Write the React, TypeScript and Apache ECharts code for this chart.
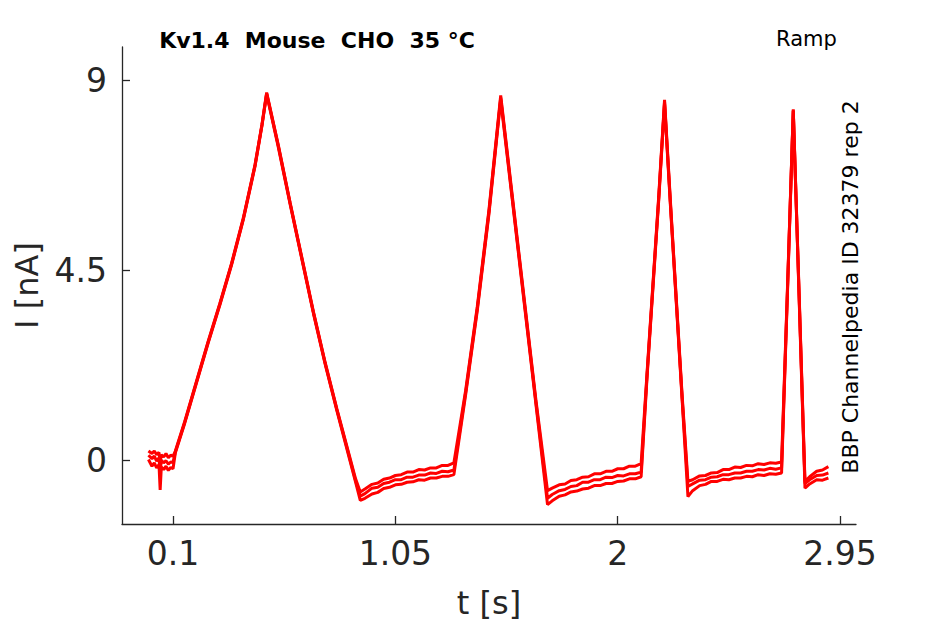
import React, { useEffect, useRef } from "react";
import * as echarts from "echarts";

const title = "Kv1.4  Mouse  CHO  35 °C";
const protocol = "Ramp";
const sideNote = "BBP Channelpedia ID 32379 rep 2";
const xTicks = [0.1, 1.05, 2, 2.95];
const yTicks = [0, 4.5, 9];

const time = [
  -0.005, 0.01, 0.02, 0.03, 0.04, 0.045, 0.05, 0.06, 0.07, 0.08, 0.09, 0.1,
  0.11, 0.15, 0.2, 0.25, 0.3, 0.35, 0.4, 0.45, 0.48, 0.5,
  0.55, 0.6, 0.65, 0.7, 0.75, 0.8, 0.85, 0.88, 0.9,
  0.92, 0.95, 0.975, 1.0, 1.025, 1.05, 1.075, 1.1, 1.125, 1.15, 1.175, 1.2, 1.225, 1.25, 1.275, 1.3,
  1.35, 1.4, 1.45, 1.5, 1.55, 1.6, 1.65, 1.7,
  1.72, 1.75, 1.775, 1.8, 1.825, 1.85, 1.875, 1.9, 1.925, 1.95, 1.975, 2.0, 2.025, 2.05, 2.075, 2.1,
  2.125, 2.15, 2.175, 2.2, 2.225, 2.25, 2.275, 2.3,
  2.32, 2.35, 2.375, 2.4, 2.425, 2.45, 2.475, 2.5, 2.525, 2.55, 2.575, 2.6, 2.625, 2.65, 2.675, 2.7,
  2.725, 2.75, 2.775, 2.8,
  2.82, 2.85, 2.875, 2.9,
];

const sweep1 = [
  0.02, -0.14, -0.06, -0.18, -0.1, -0.7, -0.16, -0.22, -0.14, -0.24, -0.17, -0.2,
  0.18, 0.88, 1.83, 2.78, 3.68, 4.63, 5.7, 6.96, 7.93, 8.68,
  7.42, 6.08, 4.78, 3.48, 2.28, 1.18, 0.12, -0.52, -0.95,
  -0.9, -0.8, -0.76, -0.67, -0.64, -0.58, -0.57, -0.52, -0.51, -0.46, -0.47, -0.42, -0.42, -0.38, -0.38, -0.34,
  1.55, 3.55, 5.85, 8.55, 6.15, 3.75, 1.35, -1.05,
  -0.96, -0.85, -0.82, -0.75, -0.73, -0.68, -0.66, -0.6, -0.6, -0.55, -0.55, -0.5, -0.49, -0.44, -0.44, -0.39,
  1.95, 4.05, 6.15, 8.45, 6.05, 3.75, 1.45, -0.86,
  -0.72, -0.6, -0.57, -0.5, -0.5, -0.45, -0.46, -0.42, -0.42, -0.38, -0.39, -0.34, -0.36, -0.32, -0.33, -0.3,
  3.95, 8.28, 3.85, -0.66,
  -0.56, -0.46, -0.47, -0.42,
];

const sweep2 = [
  0.12, 0.04, 0.1, -0.02, 0.06, -0.3, 0.0, -0.06, -0.01, -0.09, -0.04, -0.05,
  0.2, 0.9, 1.85, 2.8, 3.7, 4.65, 5.72, 6.98, 7.95, 8.7,
  7.45, 6.1, 4.8, 3.5, 2.3, 1.2, 0.15, -0.48, -0.85,
  -0.79, -0.66, -0.64, -0.55, -0.52, -0.46, -0.46, -0.4, -0.4, -0.35, -0.35, -0.3, -0.31, -0.26, -0.27, -0.23,
  1.6, 3.6, 5.9, 8.6, 6.2, 3.8, 1.4, -0.9,
  -0.81, -0.72, -0.69, -0.62, -0.6, -0.52, -0.52, -0.46, -0.46, -0.4, -0.41, -0.36, -0.37, -0.32, -0.32, -0.28,
  2.0, 4.1, 6.2, 8.5, 6.1, 3.8, 1.5, -0.62,
  -0.56, -0.47, -0.46, -0.4, -0.39, -0.34, -0.34, -0.3, -0.3, -0.26, -0.26, -0.22, -0.23, -0.19, -0.21, -0.18,
  4.0, 8.3, 3.9, -0.55,
  -0.46, -0.36, -0.35, -0.3,
];

const sweep3 = [
  0.22, 0.16, 0.22, 0.13, 0.19, -0.05, 0.13, 0.08, 0.16, 0.06, 0.12, 0.1,
  0.22, 0.92, 1.87, 2.82, 3.72, 4.67, 5.74, 7.0, 7.97, 8.72,
  7.47, 6.12, 4.82, 3.52, 2.32, 1.22, 0.18, -0.44, -0.75,
  -0.68, -0.57, -0.54, -0.45, -0.42, -0.36, -0.34, -0.28, -0.28, -0.22, -0.23, -0.18, -0.18, -0.12, -0.12, -0.06,
  1.65, 3.65, 5.95, 8.65, 6.25, 3.85, 1.45, -0.72,
  -0.66, -0.58, -0.56, -0.48, -0.46, -0.4, -0.39, -0.32, -0.32, -0.26, -0.26, -0.2, -0.2, -0.14, -0.14, -0.08,
  2.05, 4.15, 6.25, 8.55, 6.15, 3.85, 1.55, -0.5,
  -0.46, -0.37, -0.36, -0.3, -0.29, -0.22, -0.22, -0.16, -0.17, -0.12, -0.13, -0.08, -0.1, -0.06, -0.07, -0.04,
  4.05, 8.32, 3.95, -0.5,
  -0.39, -0.26, -0.23, -0.15,
];

const sweeps = [sweep1, sweep2, sweep3];

const FONT = "DejaVu Sans";
const AX = "#262626";

export default function App() {
  const ref = useRef<HTMLDivElement>(null);
  useEffect(() => {
    if (!ref.current) return;
    const chart = echarts.init(ref.current, undefined, { renderer: "svg" });
    chart.setOption({
      animation: false,
      backgroundColor: "#ffffff",
      grid: { left: 122, right: 89, top: 47, bottom: 98, containLabel: false },
      xAxis: {
        type: "value",
        min: -0.118,
        max: 3.018,
        name: "t [s]",
        nameLocation: "middle",
        nameGap: 63,
        nameTextStyle: { fontFamily: FONT, fontSize: 32, color: AX },
        axisLine: { show: true, onZero: false, lineStyle: { color: AX, width: 1.3 } },
        axisTick: { show: true, inside: true, length: 8, customValues: xTicks, lineStyle: { color: AX, width: 1.3 } },
        axisLabel: {
          customValues: xTicks,
          margin: 13,
          fontFamily: FONT,
          fontSize: 33,
          color: AX,
          formatter: (v: number) => String(v),
        },
        splitLine: { show: false },
      },
      yAxis: {
        type: "value",
        min: -1.51,
        max: 9.8,
        name: "I [nA]",
        nameLocation: "middle",
        nameRotate: 90,
        nameGap: 79,
        nameTextStyle: { fontFamily: FONT, fontSize: 32, color: AX },
        axisLine: { show: true, onZero: false, lineStyle: { color: AX, width: 1.3 } },
        axisTick: { show: true, inside: true, length: 8, customValues: yTicks, lineStyle: { color: AX, width: 1.3 } },
        axisLabel: {
          customValues: yTicks,
          margin: 15,
          fontFamily: FONT,
          fontSize: 33,
          color: AX,
          formatter: (v: number) => String(v),
        },
        splitLine: { show: false },
      },
      series: sweeps.map((s, i) => ({
        name: "sweep " + (i + 1),
        type: "line",
        data: time.map((t, j) => [t, s[j]]),
        showSymbol: false,
        symbol: "none",
        lineStyle: { color: "#ff0000", width: 3 },
        clip: true,
      })),
      graphic: [
        {
          type: "text",
          x: 317,
          y: 40,
          style: {
            text: title,
            fontFamily: FONT,
            fontSize: 22,
            fontWeight: "bold",
            fill: "#000000",
            textAlign: "center",
            textVerticalAlign: "middle",
          },
        },
        {
          type: "text",
          x: 776,
          y: 39,
          style: {
            text: protocol,
            fontFamily: FONT,
            fontSize: 21,
            fill: "#000000",
            textAlign: "left",
            textVerticalAlign: "middle",
          },
        },
        {
          type: "text",
          x: 850,
          y: 287,
          rotation: Math.PI / 2,
          style: {
            text: sideNote,
            fontFamily: FONT,
            fontSize: 22,
            fill: "#000000",
            textAlign: "center",
            textVerticalAlign: "middle",
          },
        },
      ],
    });
    return () => chart.dispose();
  }, []);
  return (
    <div
      ref={ref}
      style={{ width: 945, height: 624, position: "fixed", left: 0, top: 0 }}
    />
  );
}
